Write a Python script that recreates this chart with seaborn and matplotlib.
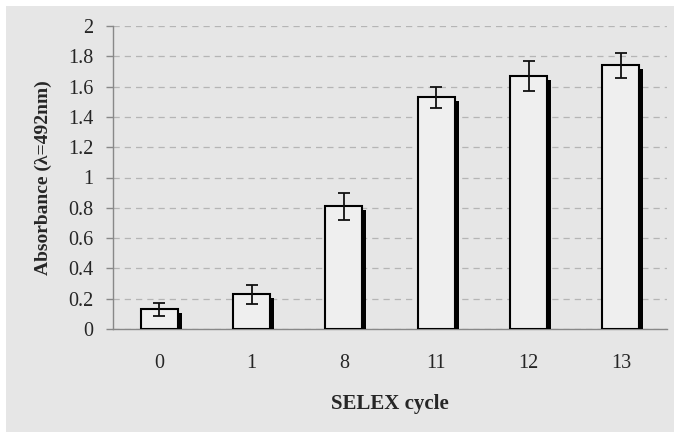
import matplotlib
matplotlib.use("Agg")
import matplotlib.pyplot as plt
import matplotlib.patheffects as pe
from matplotlib.patches import Rectangle
from matplotlib.ticker import FixedLocator
import pandas as pd
import seaborn as sns

cycles = ["0", "1", "8", "11", "12", "13"]
absorbance = [0.13, 0.23, 0.81, 1.53, 1.67, 1.74]
err = [0.043, 0.063, 0.09, 0.07, 0.10, 0.085]
yticks = [0, 0.2, 0.4, 0.6, 0.8, 1, 1.2, 1.4, 1.6, 1.8, 2]

df = pd.DataFrame({"cycle": cycles, "abs": absorbance, "err": err})

sns.set_style("white")
plt.rcParams["font.family"] = ["Liberation Serif", "DejaVu Serif"]

bg = "#e6e6e6"
fig = plt.figure(figsize=(6.74, 4.32), dpi=100)
fig.patch.set_facecolor("white")
fig.patches.append(Rectangle((6 / 674, 0), 1, 1 - 6 / 432, transform=fig.transFigure,
                             facecolor=bg, edgecolor="none", zorder=-10))
ax = fig.add_axes([113 / 674, 103 / 432, 554 / 674, 303 / 432])
ax.set_facecolor(bg)

sns.barplot(data=df, x="cycle", y="abs", order=cycles, width=0.4,
            color="#efefef", edgecolor="black", linewidth=1.5, ax=ax, zorder=3)
for bar in ax.patches:
    bar.set_path_effects([pe.SimplePatchShadow(offset=(2.8, -2.8), shadow_rgbFace="black",
                                               alpha=1.0), pe.Normal()])

ax.errorbar(range(len(cycles)), df["abs"], yerr=df["err"], fmt="none",
            ecolor="#111111", elinewidth=1.3, capsize=4, capthick=1.3, zorder=4)

ax.set_xlim(-0.5, len(cycles) - 0.5)
ax.set_ylim(0, 2)
ax.set_yticks(yticks, [f"{v:g}" for v in yticks])
ax.yaxis.grid(True, linestyle=(0, (5, 4)), color="#b5b5b5", linewidth=0.9)
ax.set_axisbelow(True)

ax.xaxis.set_minor_locator(FixedLocator([i - 0.5 for i in range(len(cycles) + 1)]))
ax.tick_params(axis="x", which="major", length=0, pad=18, labelsize=14.5)
ax.tick_params(axis="x", which="minor", length=4, width=1, color="#888888", direction="out")
ax.tick_params(axis="y", length=5, width=1, color="#888888", direction="out", pad=9, labelsize=14.5)
ax.tick_params(left=True, bottom=True)

for s in ["top", "right"]:
    ax.spines[s].set_visible(False)
for s in ["left", "bottom"]:
    ax.spines[s].set_color("#888888")
    ax.spines[s].set_linewidth(1)

ax.set_xlabel("SELEX cycle", fontsize=15, fontweight="bold", labelpad=15)
ax.set_ylabel("Absorbance (λ=492nm)", fontsize=14, fontweight="bold", labelpad=12)

fig.savefig("out.png", dpi=100, facecolor=fig.get_facecolor())
